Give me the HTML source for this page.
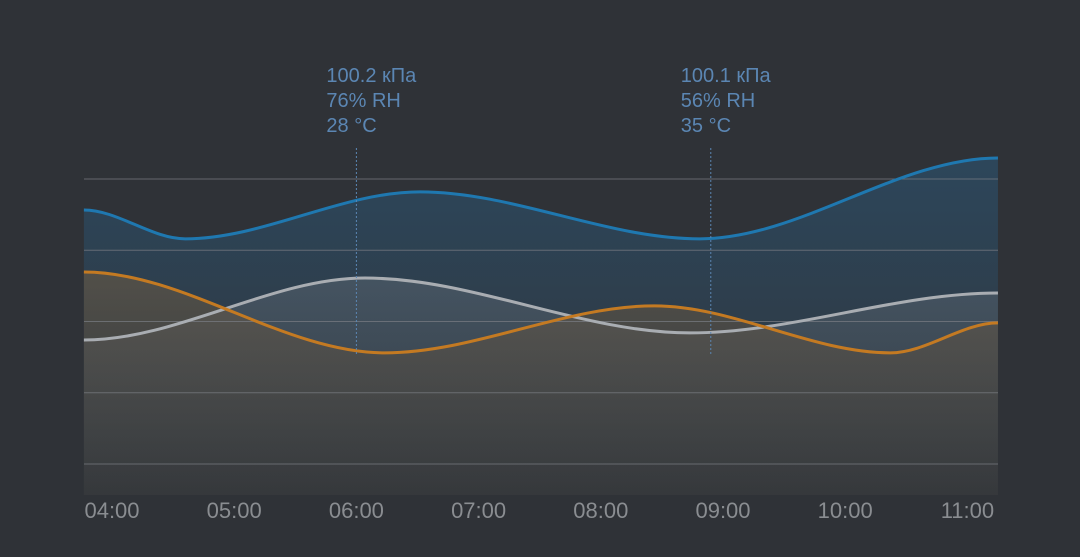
<!DOCTYPE html>
<html><head><meta charset="utf-8"><style>
html,body{margin:0;padding:0;background:#2f3237;}
svg{display:block;font-family:"Liberation Sans",sans-serif;}
</style></head><body>
<svg id="chart" width="1080" height="557" viewBox="0 0 1080 557">
<defs>
<linearGradient id="gBlue" x1="0" y1="0" x2="0" y2="1"><stop offset="0" stop-color="#2a5f86" stop-opacity="0.45"/><stop offset="1" stop-color="#2a5f86" stop-opacity="0.05"/></linearGradient>
<linearGradient id="gGrey" x1="0" y1="0" x2="0" y2="1"><stop offset="0" stop-color="#8a8f96" stop-opacity="0.25"/><stop offset="1" stop-color="#8a8f96" stop-opacity="0.02"/></linearGradient>
<linearGradient id="gOrange" x1="0" y1="0" x2="0" y2="1"><stop offset="0" stop-color="#6b5a44" stop-opacity="0.6"/><stop offset="1" stop-color="#4a4136" stop-opacity="0.2"/></linearGradient>
</defs>
<g id="areas"></g>
<g id="grid"></g>
<g id="lines"></g>
<g id="xaxis"></g>
<g id="notes"></g>
</svg>
<script>
const tickLabels=["04:00","05:00","06:00","07:00","08:00","09:00","10:00","11:00"];
const tickTimes=[4,5,6,7,8,9,10,11];
const gridValues=[0,20,40,60,80];
const pressureT=[3.77,4.6,6.52,8.81,11.25];
const pressureV=[71.3,63.2,76.4,63.2,85.9];
const humidityT=[3.77,6.07,8.73,11.25];
const humidityV=[34.8,52.2,36.8,48];
const tempT=[3.77,6.23,8.44,10.37,11.25];
const tempV=[53.9,31.2,44.4,31.2,39.6];
const markerT=[6,8.9];
const markerLines=[["100.2 кПа","76% RH","28 °C"],["100.1 кПа","56% RH","35 °C"]];

const NS="http://www.w3.org/2000/svg";
const X0=84,X1=998,BOTTOM=495;
const x=t=>112+(t-4)*122.2;
const y=v=>464-v*3.5625;
function mk(tag,attrs,parent){const e=document.createElementNS(NS,tag);for(const k in attrs)e.setAttribute(k,attrs[k]);parent.appendChild(e);return e;}
function monotone(xs,ys){
  const n=xs.length,d=[],m=[];
  for(let i=0;i<n-1;i++)d.push((ys[i+1]-ys[i])/(xs[i+1]-xs[i]));
  for(let i=1;i<n-1;i++){m[i]=(d[i-1]*d[i]<=0)?0:(d[i-1]+d[i])/2;}
  m[0]=0;m[n-1]=0;
  let p="M"+xs[0]+","+ys[0];
  for(let i=0;i<n-1;i++){const h=(xs[i+1]-xs[i])/3;
    p+="C"+(xs[i]+h)+","+(ys[i]+m[i]*h)+" "+(xs[i+1]-h)+","+(ys[i+1]-m[i+1]*h)+" "+xs[i+1]+","+ys[i+1];}
  return p;
}
const grid=document.getElementById('grid');
gridValues.forEach(v=>{const l=mk('line',{x1:X0,x2:X1,y1:y(v),y2:y(v),stroke:'#7a7e84','stroke-opacity':0.7,'stroke-width':1},grid);

});
const series=[
 {T:pressureT,V:pressureV,c:'#1f78b0',f:'url(#gBlue)',n:'pressure'},
 {T:humidityT,V:humidityV,c:'#a9adb2',f:'url(#gGrey)',n:'humidity'},
 {T:tempT,V:tempV,c:'#c47a22',f:'url(#gOrange)',n:'temperature'}];
const areas=document.getElementById('areas'),lines=document.getElementById('lines');
series.forEach(s=>{
 const xs=s.T.map(x),ys=s.V.map(y);
 const p=monotone(xs,ys);
 const a=mk('path',{d:p+"L"+xs[xs.length-1]+","+BOTTOM+"L"+xs[0]+","+BOTTOM+"Z",fill:s.f},areas);
 
 
 const l=mk('path',{d:p,fill:'none',stroke:s.c,'stroke-width':3},lines);
 
 
});
const xa=document.getElementById('xaxis');
tickLabels.forEach((lab,i)=>{const t=mk('text',{x:x(tickTimes[i]),y:518,'text-anchor':'middle',fill:'#8a8d91','font-size':22},xa);t.textContent=lab;

});
const notes=document.getElementById('notes');
markerT.forEach((t,i)=>{const xx=x(t);
 const l=mk('line',{x1:xx,x2:xx,y1:148,y2:356,stroke:'#5b86b3','stroke-width':1,'stroke-dasharray':'2,2'},notes);
 
 
 markerLines[i].forEach((s,j)=>{const tx=mk('text',{x:xx-30,y:82+j*25,fill:'#5b86b3','font-size':20},notes);tx.textContent=s;
 
 });
});
</script>
</body></html>
